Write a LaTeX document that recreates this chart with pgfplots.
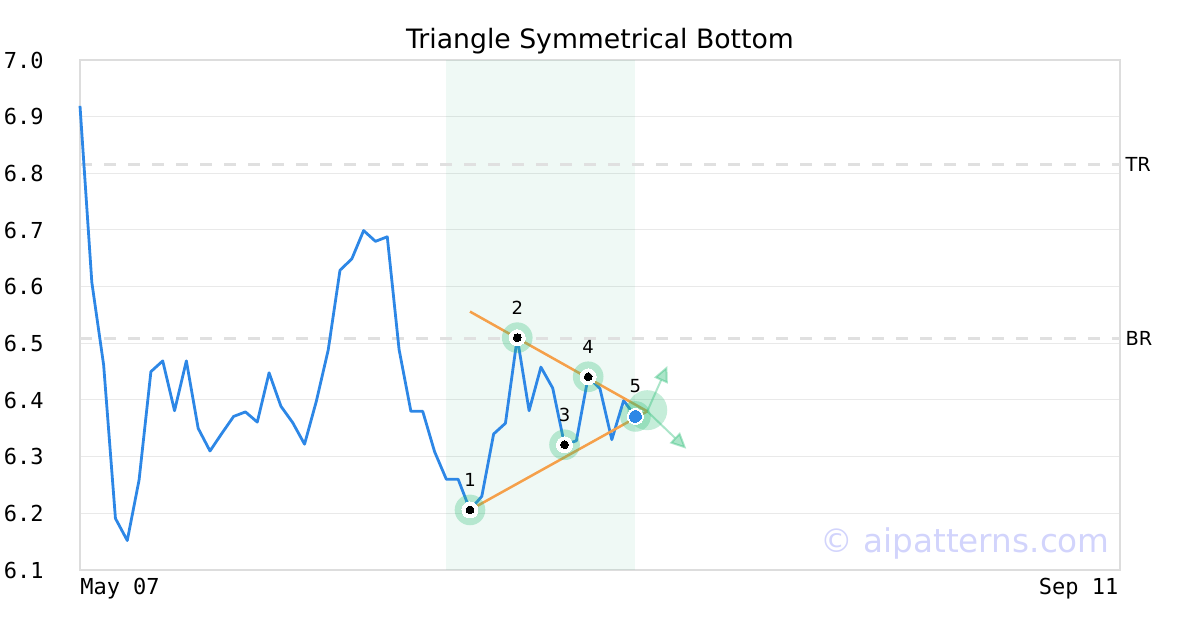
\documentclass[border=0pt]{standalone}
\usepackage{pgfplots}
\pgfplotsset{compat=1.18}
\usepackage{fontspec}
\setmainfont{DejaVu Sans}
\setmonofont{DejaVu Sans Mono}
\usetikzlibrary{arrows.meta}
\definecolor{priceblue}{HTML}{2D87E6}
\definecolor{trendorange}{HTML}{F5A04A}
\definecolor{halogreen}{RGB}{46,190,120}
\definecolor{shadegreen}{RGB}{0,160,100}
\definecolor{framegray}{HTML}{DDDDDD}
\definecolor{gridgray}{HTML}{E9E9E9}
\definecolor{dashgray}{HTML}{E0E0E0}
\definecolor{wmark}{RGB}{210,212,252}
\begin{document}
\begin{tikzpicture}
\begin{axis}[
  scale only axis,
  width=780pt, height=382.5pt,
  xmin=0, xmax=88, ymin=6.1, ymax=7.0,
  axis line style={draw=framegray, line width=1.5pt},
  ymajorgrids,
  major grid style={draw=gridgray, line width=0.75pt},
  xtick=\empty,
  ytick={6.1,6.2,6.3,6.4,6.5,6.6,6.7,6.8,6.9,7.0},
  major tick length=0pt,
  yticklabel style={font=\fontsize{16.5pt}{18pt}\selectfont\ttfamily, anchor=east, inner sep=0pt, xshift=-27pt,
    /pgf/number format/.cd, fixed, fixed zerofill, precision=1, assume math mode=true},
  clip=false,
]
\coordinate (bl) at (rel axis cs:0,0);
% shaded pattern region
\addplot[draw=none, fill=shadegreen, fill opacity=0.063] coordinates {(31,6.1) (47,6.1) (47,7.0) (31,7.0)} -- cycle;
% resistance lines
\addplot[draw=dashgray, line width=2.25pt, dash pattern=on 9pt off 9pt] coordinates {(0,6.815) (88,6.815)};
\addplot[draw=dashgray, line width=2.25pt, dash pattern=on 9pt off 9pt] coordinates {(0,6.509) (88,6.509)};
% price
\addplot[draw=priceblue, line width=2.1pt, line join=round] coordinates {
(0,6.919) (1,6.608) (2,6.462) (3,6.191) (4,6.152) (5,6.259) (6,6.450) (7,6.469)
(8,6.381) (9,6.469) (10,6.350) (11,6.310) (12,6.341) (13,6.371) (14,6.379) (15,6.361)
(16,6.448) (17,6.389) (18,6.360) (19,6.322) (20,6.398) (21,6.488) (22,6.629) (23,6.649)
(24,6.699) (25,6.680) (26,6.688) (27,6.489) (28,6.380) (29,6.380) (30,6.309) (31,6.260)
(32,6.260) (33,6.206) (34,6.230) (35,6.340) (36,6.359) (37,6.510) (38,6.381) (39,6.458)
(40,6.421) (41,6.321) (42,6.328) (43,6.441) (44,6.420) (45,6.330) (46,6.399) (47,6.371)};
% trend lines
\addplot[draw=trendorange, line width=1.9pt] coordinates {(33,6.556) (48,6.380)};
\addplot[draw=trendorange, line width=1.9pt] coordinates {(33,6.206) (48,6.380)};
% halos
\addplot[only marks, mark=*, color=halogreen, mark size=11.5pt, mark options={draw opacity=0, fill opacity=0.3, line width=0pt}] coordinates {(33,6.206) (37,6.510) (41,6.321) (43,6.441) (47,6.371)};
\addplot[only marks, mark=*, color=halogreen, mark size=15pt, mark options={draw opacity=0, fill opacity=0.28, line width=0pt}] coordinates {(48,6.382)};
% arrows
\addplot[draw=halogreen, opacity=0.4, line width=1.5pt, -{Triangle[length=12pt, width=11pt]}] coordinates {(48,6.380) (49.7,6.460)};
\addplot[draw=halogreen, opacity=0.4, line width=1.5pt, -{Triangle[length=12pt, width=11pt]}] coordinates {(48,6.380) (51.3,6.314)};
% white rings
\addplot[only marks, mark=*, color=white, mark size=6pt, mark options={line width=0pt}] coordinates {(33,6.206) (37,6.510) (41,6.321) (43,6.441) (47,6.371)};
\addplot[only marks, mark=*, color=black, mark size=2.9pt, mark options={line width=0pt}] coordinates {(33,6.206) (37,6.510) (41,6.321) (43,6.441)};
\addplot[only marks, mark=*, color=priceblue, mark size=4.4pt, mark options={line width=0pt}] coordinates {(47,6.371)};
% point labels
\node[font=\fontsize{13.5pt}{15pt}\selectfont] at (axis cs:33,6.206) [yshift=22.5pt] {1};
\node[font=\fontsize{13.5pt}{15pt}\selectfont] at (axis cs:37,6.510) [yshift=22.5pt] {2};
\node[font=\fontsize{13.5pt}{15pt}\selectfont] at (axis cs:41,6.321) [yshift=22.5pt] {3};
\node[font=\fontsize{13.5pt}{15pt}\selectfont] at (axis cs:43,6.441) [yshift=22.5pt] {4};
\node[font=\fontsize{13.5pt}{15pt}\selectfont] at (axis cs:47,6.371) [yshift=22.5pt] {5};
% right labels
\node[font=\fontsize{14.5pt}{16pt}\selectfont, anchor=west, inner sep=0pt] at (axis cs:88,6.815) [xshift=4pt] {TR};
\node[font=\fontsize{14.5pt}{16pt}\selectfont, anchor=west, inner sep=0pt] at (axis cs:88,6.509) [xshift=4pt] {BR};
% date labels
\node[font=\fontsize{16.5pt}{18pt}\selectfont\ttfamily, anchor=north west, inner sep=0pt] at (rel axis cs:0,0) [yshift=-6pt] {May 07};
\node[font=\fontsize{16.5pt}{18pt}\selectfont\ttfamily, anchor=north east, inner sep=0pt] at (rel axis cs:1,0) [yshift=-6pt, xshift=-1pt] {Sep 11};
% title
\node[font=\fontsize{20pt}{23pt}\selectfont, anchor=base, inner sep=0pt] at (rel axis cs:0.5,1) [yshift=9pt] {Triangle Symmetrical Bottom};
% watermark
\node[font=\fontsize{24.5pt}{27pt}\selectfont, text=wmark, anchor=east, inner sep=0pt] at (rel axis cs:1,0) [xshift=-7.5pt, yshift=20pt] {© aipatterns.com};
\end{axis}
\pgfresetboundingbox
\path (bl) ++(-60pt,-45pt) rectangle ++(900pt,472.5pt);
\end{tikzpicture}
\end{document}
